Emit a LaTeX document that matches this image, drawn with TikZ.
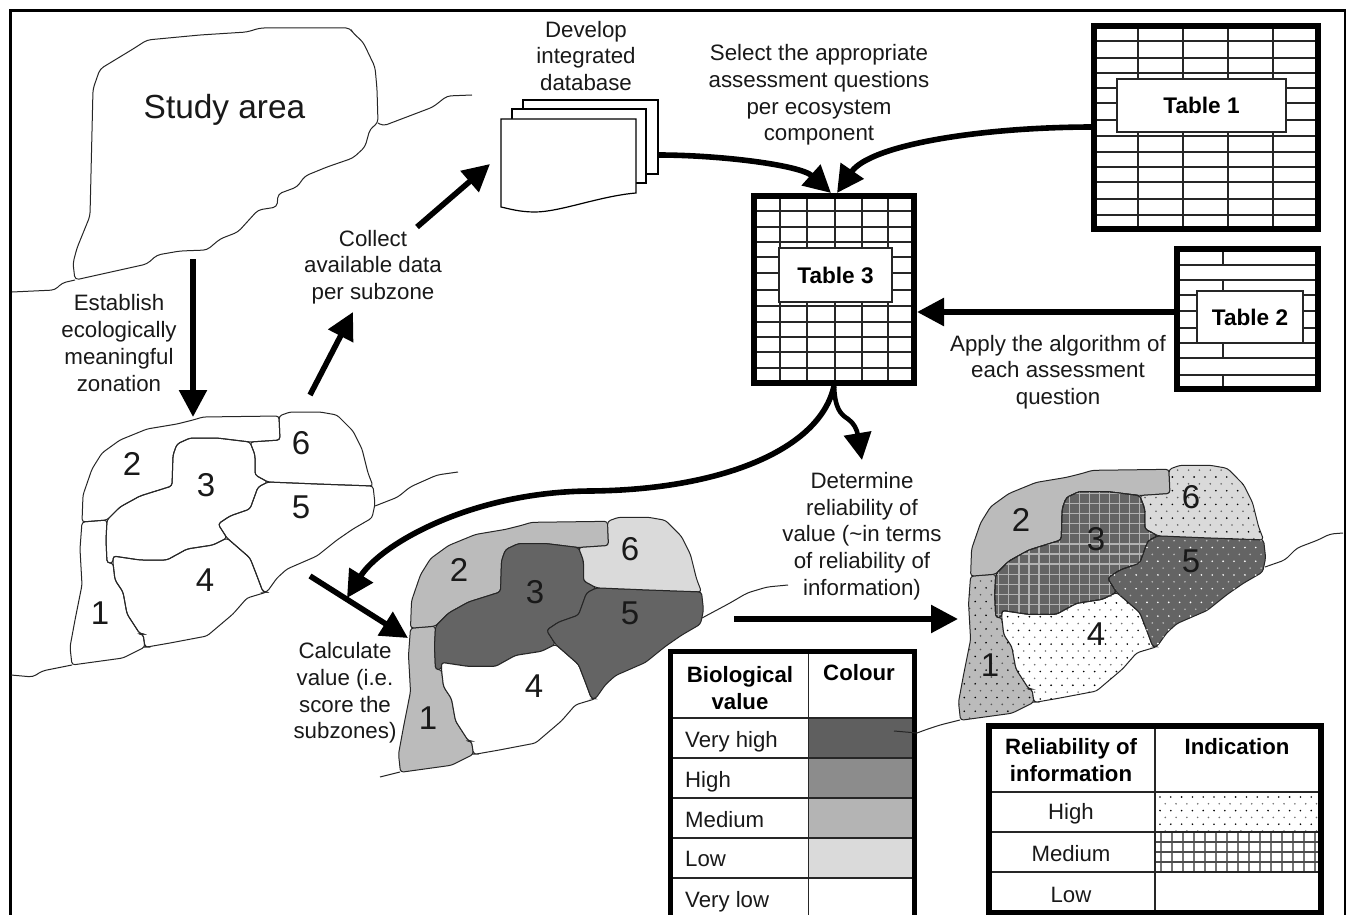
\documentclass[tikz,border=0pt]{standalone}
\usepackage{fontspec}
\setmainfont{Liberation Sans}
\usetikzlibrary{arrows.meta}
\tikzset{
  lbl/.style={align=center,inner sep=0pt,text=black!90,font=\fontsize{22.3}{26.7}\selectfont},
  legtxt/.style={inner sep=0pt,text=black!90,font=\fontsize{22.2}{26.2}\selectfont},
  boldlbl/.style={align=center,inner sep=0pt,font=\fontsize{22.2}{26.2}\selectfont\bfseries},
  numlbl/.style={inner sep=0pt,text=black!90,font=\fontsize{33}{33}\selectfont},
  bigarrow/.style={line width=5.6pt,-{Triangle[length=27pt,width=27pt]}},
  thickframe/.style={draw=black,line width=6.6pt,fill=white,inner sep=0pt,outer sep=0pt},
  tabbox/.style={draw=black!85,line width=1.3pt,fill=white,inner sep=0pt,font=\fontsize{22.6}{26}\selectfont\bfseries},
  gridline/.style={draw=black!85,line width=1.4pt},
  zone/.style={draw=black!85,line width=1pt,rounded corners=3pt},
  coast/.style={draw=black!85,line width=1pt,rounded corners=4pt},
  legframe/.style={draw=black,line width=5.6pt},
  legrule/.style={draw=black!85,line width=1.2pt},
  sheet/.style={draw=black,line width=1.2pt,fill=white}
}
\definecolor{zlow}{HTML}{DADADA}
\definecolor{zmed}{HTML}{BBBBBB}
\definecolor{lmed}{HTML}{B4B4B4}
\definecolor{zhigh}{HTML}{8C8C8C}
\definecolor{zvh}{HTML}{646464}
\def\zoneA{(82,522) -- (107,520) -- (106,540) -- (107,563) -- (113,563) -- (115,580) -- (123,592) -- (127,614) -- (140,634) -- (143,634) -- (145,647) -- (123,658) -- (72,665) -- (70,647) -- (75,620) -- (82,585) -- (80,549) -- cycle}
\def\zoneB{(82,522) -- (83,495) -- (92,469) -- (102,453) -- (120,440) -- (147,429) -- (177,424) -- (193,420) -- (203,417) -- (279,416) -- (280,440) -- (250,442) -- (217,438) -- (190,438) -- (177,444) -- (173,455) -- (172,486) -- (140,496) -- (120,507) -- (107,520) -- cycle}
\def\zoneC{(107,520) -- (120,507) -- (140,496) -- (172,486) -- (173,455) -- (177,444) -- (190,438) -- (217,438) -- (250,442) -- (255,455) -- (255,475) -- (268,482) -- (258,487) -- (250,509) -- (230,516) -- (218,524) -- (227,538) -- (213,545) -- (187,549) -- (167,560) -- (140,560) -- (113,556) -- (113,563) -- (107,563) -- (106,540) -- cycle}
\def\zoneD{(113,556) -- (140,560) -- (167,560) -- (187,549) -- (213,545) -- (227,538) -- (250,558) -- (257,576) -- (263,592) -- (267,592) -- (247,598) -- (233,614) -- (207,636) -- (170,643) -- (147,647) -- (145,647) -- (143,634) -- (140,634) -- (127,614) -- (123,592) -- (115,580) -- (113,563) -- cycle}
\def\zoneE{(268,482) -- (317,484) -- (373,486) -- (375,504) -- (372,518) -- (353,529) -- (337,540) -- (317,556) -- (287,569) -- (277,578) -- (267,592) -- (263,592) -- (257,576) -- (250,558) -- (227,538) -- (218,524) -- (230,516) -- (250,509) -- (258,487) -- cycle}
\def\zoneF{(279,416) -- (290,412) -- (320,412) -- (337,415) -- (353,431) -- (362,449) -- (368,473) -- (373,486) -- (317,484) -- (268,482) -- (255,475) -- (255,455) -- (250,442) -- (280,440) -- cycle}
% dots: colour, x0, y0, columns, rows  (odd rows are fainter)
\newcommand{\dotfield}[5]{%
  \foreach \rr in {0,...,#5}{%
    \pgfmathsetmacro{\offs}{mod(\rr,2)*5.25}%
    \pgfmathsetmacro{\opac}{1-mod(\rr,2)*0.45}%
    \fill[#1,fill opacity=\opac] \foreach \cc in {0,...,#4}{(#2+\offs+\cc*10.8,#3+\rr*6.8) circle (0.9)};%
  }%
}
\begin{document}
\begin{tikzpicture}[x=1pt,y=-1pt]
\useasboundingbox (0,0) rectangle (1347,915);
\fill[white] (0,0) rectangle (1347,915);
\draw[black,line width=2.2pt] (10.5,916) -- (10.5,10.5) -- (1345,10.5) -- (1345,916);

% ---------- study area
\draw[zone,rounded corners=4pt] (75,280) -- (73,263) -- (77,248) -- (90,216) -- (93,89) -- (100,69) -- (133,49) -- (147,40) -- (200,35) -- (247,32) -- (260,28) -- (350,28) -- (353,33) -- (363,42) -- (375,67) -- (377,89) -- (378,123) -- (370,129) -- (365,147) -- (353,158) -- (327,167) -- (305,176) -- (297,187) -- (278,194) -- (277,207) -- (258,210) -- (238,232) -- (220,239) -- (207,250) -- (180,251) -- (157,255) -- (147,264) -- cycle;
\draw[coast] (12,292) -- (55,290) -- (62,283) -- (75,280);
\draw[coast] (378,123) -- (383,126) -- (433,107) -- (447,96) -- (472,95);
\node[inner sep=0pt,text=black!90,font=\fontsize{33.4}{33}\selectfont] (study) at (224.5,109.5) {Study area};

% ---------- map 1 : zones
\begin{scope}
  \draw[zone] \zoneA; \draw[zone] \zoneB; \draw[zone] \zoneC;
  \draw[zone] \zoneD; \draw[zone] \zoneE; \draw[zone] \zoneF;
\end{scope}
\draw[coast] (11,675) -- (33,677) -- (42,671) -- (72,665);
\draw[coast] (375,506) -- (398,497) -- (410,487) -- (437,475) -- (458,472);
\node[numlbl] (aone) at (100,613) {1};
\node[numlbl] (atwo) at (132,464) {2};
\node[numlbl] (athree) at (206,485) {3};
\node[numlbl] (afour) at (205,580) {4};
\node[numlbl] (afive) at (301,507) {5};
\node[numlbl] (asix) at (301,443) {6};

% ---------- map 2 : values
\begin{scope}[shift={(328.5,102)},xscale=1,yscale=1.008]
  \draw[zone,fill=zmed] \zoneA; \draw[zone,fill=zmed] \zoneB; \draw[zone,fill=zvh] \zoneC;
  \draw[zone,fill=white] \zoneD; \draw[zone,fill=zvh] \zoneE; \draw[zone,fill=zlow] \zoneF;
\end{scope}
\draw[coast] (380,777) -- (400,772);
\draw[coast] (702,618) -- (730,603) -- (747,593) -- (767,587) -- (788,585);
\node[numlbl] (bone) at (428,718) {1};
\node[numlbl] (btwo) at (459,570) {2};
\node[numlbl] (bthree) at (535,592) {3};
\node[numlbl] (bfour) at (534,686) {4};
\node[numlbl] (bfive) at (630,613) {5};
\node[numlbl] (bsix) at (630,549) {6};

% ---------- map 3 : reliability
\begin{scope}[shift={(888,50)},xscale=1.007,yscale=1.008]
  \draw[zone,fill=zmed] \zoneA; \draw[zone,fill=zmed] \zoneB; \draw[zone,fill=zvh] \zoneC;
  \draw[zone,fill=white] \zoneD; \draw[zone,fill=zvh] \zoneE; \draw[zone,fill=zlow] \zoneF;
  \begin{scope}\clip \zoneA; \dotfield{black}{65}{520}{8}{22}\end{scope}
  \begin{scope}\clip \zoneD; \dotfield{black}{108}{535}{16}{18}\end{scope}
  \begin{scope}\clip \zoneE; \dotfield{white}{214}{480}{16}{18}\end{scope}
  \begin{scope}\clip \zoneF; \dotfield{black}{250}{410}{13}{11}\end{scope}
  \begin{scope}\clip \zoneC;
    \foreach \gx in {100,110,...,270}{\draw[black!30,line width=1.2pt] (\gx,430) -- (\gx,570);}
    \foreach \gy in {440,450,...,570}{\draw[black!30,line width=1.2pt] (100,\gy) -- (275,\gy);}
  \end{scope}
  \draw[zone] \zoneC;
\end{scope}
\draw[coast] (1265,567) -- (1285,560) -- (1297,548) -- (1318,540) -- (1330,534) -- (1343,533);
\draw[coast] (917,733) -- (925,730) -- (940,725) -- (960,720);
\node[numlbl] (cone) at (990,665) {1};
\node[numlbl] (ctwo) at (1021,520) {2};
\node[numlbl] (cthree) at (1096,539) {3};
\node[numlbl] (cfour) at (1096,634) {4};
\node[numlbl] (cfive) at (1191,561) {5};
\node[numlbl] (csix) at (1191,497) {6};

% ---------- database sheets
\draw[sheet] (523,100) rectangle (658,174);
\draw[sheet] (512,109) rectangle (646,183);
\draw[sheet] (501,119) -- (636,119) -- (636,193) .. controls (600,196) and (560,212) .. (535,212) .. controls (520,212) and (510,209) .. (501,207) -- cycle;
\coordinate (dbout) at (658,155);

% ---------- Table 1
\node[thickframe,minimum width=224pt,minimum height=203pt] (frameone) at (1206,127.5) {};
\foreach \gy in {41,58,73,88,103,120,136,152,167,182,199,215}{\draw[gridline] (1094,\gy) -- (1318,\gy);}
\foreach \gx in {1138,1183,1228,1273}{\draw[gridline] (\gx,26) -- (\gx,229);}
\node[tabbox,minimum width=169pt,minimum height=53pt] (tableone) at (1201.5,105.5) {\raisebox{-1pt}{Table 1}};
\draw[draw=black,line width=6.6pt] (frameone.north west) rectangle (frameone.south east);

% ---------- Table 2
\node[thickframe,minimum width=141pt,minimum height=140pt] (frametwo) at (1247.5,319) {};
\foreach \gy in {265,280,295,311,328,343,358,375}{\draw[gridline] (1177,\gy) -- (1318,\gy);}
\foreach \ya/\yb in {249/265,280/295,311/328,343/358,375/389}{\draw[gridline] (1223,\ya) -- (1223,\yb);}
\node[tabbox,minimum width=106pt,minimum height=52pt] (tabletwo) at (1250,317) {\raisebox{-1pt}{Table 2}};
\draw[draw=black,line width=6.6pt] (frametwo.north west) rectangle (frametwo.south east);

% ---------- Table 3
\node[thickframe,minimum width=160pt,minimum height=187pt] (framethree) at (834,289.5) {};
\foreach \gy in {211,227,242,257,273,290,306,322,337,352,368}{\draw[gridline] (754,\gy) -- (914,\gy);}
\foreach \gx in {780,807,835,862,888}{\draw[gridline] (\gx,196) -- (\gx,383);}
\node[tabbox,minimum width=113pt,minimum height=54pt] (tablethree) at (835.5,275) {\raisebox{-1pt}{Table 3}};
\draw[draw=black,line width=6.6pt] (framethree.north west) rectangle (framethree.south east);

% ---------- named free ends
\coordinate (zonestart) at (193,259);
\coordinate (zoneend) at (193,417);
\coordinate (collA) at (310,395);
\coordinate (collB) at (353,312);
\coordinate (collC) at (417,227);
\coordinate (collD) at (490,164);
\coordinate (calcA) at (310,576);
\coordinate (calcB) at (408,638);
\coordinate (relA) at (734,619);
\coordinate (relB) at (958,619);
\coordinate (bigend) at (347,598);
\coordinate (smallend) at (862,460);

% ---------- connectors
\draw[bigarrow] (zonestart) -- (zoneend);
\draw[bigarrow] (collA) -- (collB);
\draw[bigarrow] (collC) -- (collD);
\draw[bigarrow] (calcA) -- (calcB);
\draw[bigarrow] (relA) -- (relB);
\draw[bigarrow] (dbout) .. controls (720,155) and (800,165) .. ([xshift=-3pt,yshift=3pt]framethree.north);
\draw[bigarrow] (frameone.west |- 0,127) .. controls (980,127) and (870,145) .. ([xshift=3pt,yshift=3pt]framethree.north);
\draw[bigarrow] (frametwo.west |- 0,312) -- ([xshift=3pt]framethree.east |- 0,312);
\draw[line width=4.6pt,-{Triangle[length=27pt,width=27pt]}] ([yshift=-3pt]framethree.south) .. controls (835,408) and (840,414) .. (848,419) .. controls (854,423) and (857,430) .. (smallend);
\draw[bigarrow] ([yshift=-3pt]framethree.south) .. controls (820,450) and (720,490) .. (590,491) .. controls (470,492) and (380,545) .. (bigend);

% ---------- labels
\node[lbl] (ldb) at (586,56) {Develop\\integrated\\database};
\node[lbl] (lsel) at (819,95) {Select the appropriate\\assessment questions\\per ecosystem\\component};
\node[lbl] (lest) at (119,343) {Establish\\ecologically\\meaningful\\zonation};
\node[lbl] (lcol) at (373,267) {Collect\\available data\\per subzone};
\node[lbl] (lcal) at (345,693) {Calculate\\value (i.e.\\score the\\subzones)};
\node[lbl] (lapp) at (1058,372) {Apply the algorithm of\\each assessment\\question};
\node[lbl] (ldet) at (862,536) {Determine\\reliability of\\value (\textasciitilde in terms\\of reliability of\\information)};

% ---------- biological value legend
\fill[zvh!95!black] (808,718) rectangle (912,758);
\fill[zhigh] (808,758) rectangle (912,798);
\fill[lmed] (808,798) rectangle (912,838);
\fill[zlow] (808,838) rectangle (912,878);
\foreach \gy in {718,758,798,838,878}{\draw[legrule] (670,\gy) -- (915,\gy);}
\draw[legrule] (808.5,651) -- (808.5,916);
\draw[legframe] (670.5,917) -- (670.5,651.5) -- (914.5,651.5) -- (914.5,917);
\node[boldlbl] (lbio) at (740,688) {Biological\\value};
\node[boldlbl] (lcolour) at (859,673) {Colour};
\node[legtxt,anchor=west] (lvh) at (685,742) {Very high};
\node[legtxt,anchor=west] (lh) at (685,782) {High};
\node[legtxt,anchor=west] (lm) at (685,820) {Medium};
\node[legtxt,anchor=west] (ll) at (685,859) {Low};
\node[legtxt,anchor=west] (lvl) at (685,902) {Very low};
\draw[draw=black!85,line width=1pt] (894,731) -- (917,733);

% ---------- reliability legend
\begin{scope}
  \clip (1155,792) rectangle (1319,832);
  \dotfield{black}{1160}{797}{16}{5}
\end{scope}
\begin{scope}
  \clip (1155,832) rectangle (1319,872);
  \foreach \gx in {1161,1172,...,1320}{\draw[black!55,line width=2.4pt] (\gx,832) -- (\gx,872);}
  \foreach \gy in {842,852,862}{\draw[black!70,line width=1.1pt] (1155,\gy) -- (1319,\gy);}
\end{scope}
\foreach \gy in {792,832,872}{\draw[legrule] (989,\gy) -- (1321,\gy);}
\draw[legrule] (1155,726) -- (1155,912);
\draw[legframe] (989,726) rectangle (1321,912.5);
\node[boldlbl] (lrel) at (1071,760) {Reliability of\\information};
\node[boldlbl] (lind) at (1237,747) {Indication};
\node[legtxt] (rh) at (1071,814) {High};
\node[legtxt] (rm) at (1071,854) {Medium};
\node[legtxt] (rl) at (1071,895) {Low};
\end{tikzpicture}
\end{document}
